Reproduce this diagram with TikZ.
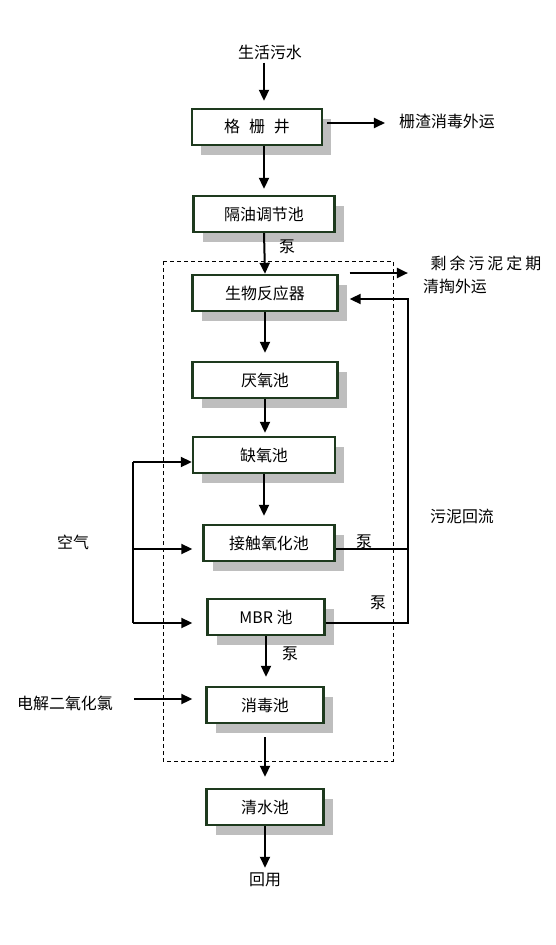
\documentclass[tikz,border=0pt]{standalone}
\usepackage{fontspec}
\setmainfont{Noto Sans CJK SC}
\usetikzlibrary{calc}
\usetikzlibrary{positioning}
\usetikzlibrary{shadows}
\usetikzlibrary{arrows.meta}
\definecolor{tankgreen}{HTML}{1E3A1E}
\definecolor{shadowgray}{HTML}{BEBEBE}
\tikzstyle{tank} = [draw=tankgreen, line width=2.4bp, fill=white, minimum height=36bp, inner sep=0pt, drop shadow={shadow xshift=9bp, shadow yshift=-10bp, fill=shadowgray, opacity=1}]
\tikzstyle{textnode} = [inner sep=3bp]
\tikzstyle{flow} = [line width=2bp, -{Triangle[length=11bp, width=10bp]}]
\tikzstyle{pipe} = [line width=2bp]
\tikzstyle{frame} = [line width=1bp, dash pattern=on 4bp off 3bp]

\begin{document}
\begin{tikzpicture}[x=1bp, y=-1bp, font=\fontsize{16}{19}\selectfont]
\useasboundingbox (0,0) rectangle (556,945);
\draw[frame] (163,261) rectangle (393,761);

\node[tank, minimum width=130bp] (grate) at (257,127) {格\hspace{9pt}栅\hspace{9pt}井};
\node[tank, minimum width=141bp] (oil) at ($(grate)+(7,87)$) {隔油调节池};
\node[tank, minimum width=145bp] (bio) at ($(oil)+(1,79)$) {生物反应器};
\node[tank, minimum width=145bp] (anaer) at ($(bio)+(0,87)$) {厌氧池};
\node[tank, minimum width=142bp] (anox) at ($(anaer)+(-1,75)$) {缺氧池};
\node[tank, minimum width=131bp] (contact) at ($(anox)+(5,88)$) {接触氧化池};
\node[tank, minimum width=117bp] (mbr) at ($(contact)+(-3,74)$) {MBR 池};
\node[tank, minimum width=117bp] (disinf) at ($(mbr)+(-1,88)$) {消毒池};
\node[tank, minimum width=117bp] (clear) at ($(disinf)+(0,102)$) {清水池};

\node[textnode] (source) at (270,52) {生活污水};
\node[textnode] (residue) at (447,121) {栅渣消毒外运};
\node[textnode] (excess) at (486,263) {剩\kern3pt 余\kern3pt 污\kern3pt 泥\kern3pt 定\kern3pt 期};
\node[textnode] (haul) at (455,286) {清掏外运};
\node[textnode] (sludge) at (462,516) {污泥回流};
\node[textnode] (air) at (73,542) {空气};
\node[textnode] (chem) at (65,703) {电解二氧化氯};
\node[textnode] (reuse) at (265,880) {回用};
\node[textnode] (pump_oil) at (287,247) {泵};
\node[textnode] (pump_contact) at (364,542) {泵};
\node[textnode] (pump_mbr) at (378,603) {泵};
\node[textnode] (pump_disinf) at (290,654) {泵};

% main line
\draw[flow, shorten >=7bp] (source.south -| oil) -- (grate.north -| oil);
\draw[flow, shorten >=6bp] (grate.south -| oil) -- (oil.north);
\draw[flow] (oil.south) -- (bio.north);
\draw[flow, shorten >=8bp] (bio.south) -- (anaer.north);
\draw[flow, shorten >=3bp] (anaer.south) -- (anaer.south |- anox.north);
\draw[flow, shorten >=8bp] (anox.south) -- (anox.south |- contact.north);
\draw[flow, shorten >=9bp] (mbr.south) -- (mbr.south |- disinf.north);
\draw[flow, shorten <=13bp, shorten >=11bp] (disinf.south) -- (clear.north);
\draw[flow, shorten >=2bp] (clear.south) -- (reuse.north);

% side streams
\coordinate (grate_out) at ($(grate.east)+(4,-4)$);
\draw[flow, shorten >=11bp] (grate_out) -- (grate_out -| residue.west);
\coordinate (bio_out) at ($(bio.east)+(11,-20)$);
\draw[flow, shorten >=12bp] (bio_out) -- (bio_out -| haul.west);

% sludge return
\coordinate (contact_out) at ($(contact.east)+(0,6)$);
\coordinate (mbr_out) at ($(mbr.east)+(0,6)$);
\coordinate (bio_in) at ($(bio.east)+(11,6)$);
\coordinate (riser) at ($(mbr)+(142,6)$);
\draw[pipe] (contact_out) -- (contact_out -| riser);
\draw[flow] (mbr_out) -- (riser) |- (bio_in);

% air
\coordinate (air_top) at ($(anox)+(-131,7)$);
\coordinate (air_mid) at (air_top |- contact_out);
\coordinate (air_bot) at (air_top |- mbr_out);
\draw[pipe] (air_top) -- (air_bot);
\draw[flow] (air_top) -- (anox.west |- air_top);
\draw[flow, shorten >=10bp] (air_mid) -- (contact.west |- air_mid);
\draw[flow, shorten >=14bp] (air_bot) -- (mbr.west |- air_bot);

% chlorine dioxide
\coordinate (chem_out) at ($(chem.east)+(18,-4)$);
\draw[flow, shorten >=13bp] (chem_out) -- (chem_out -| disinf.west);
\end{tikzpicture}
\end{document}
